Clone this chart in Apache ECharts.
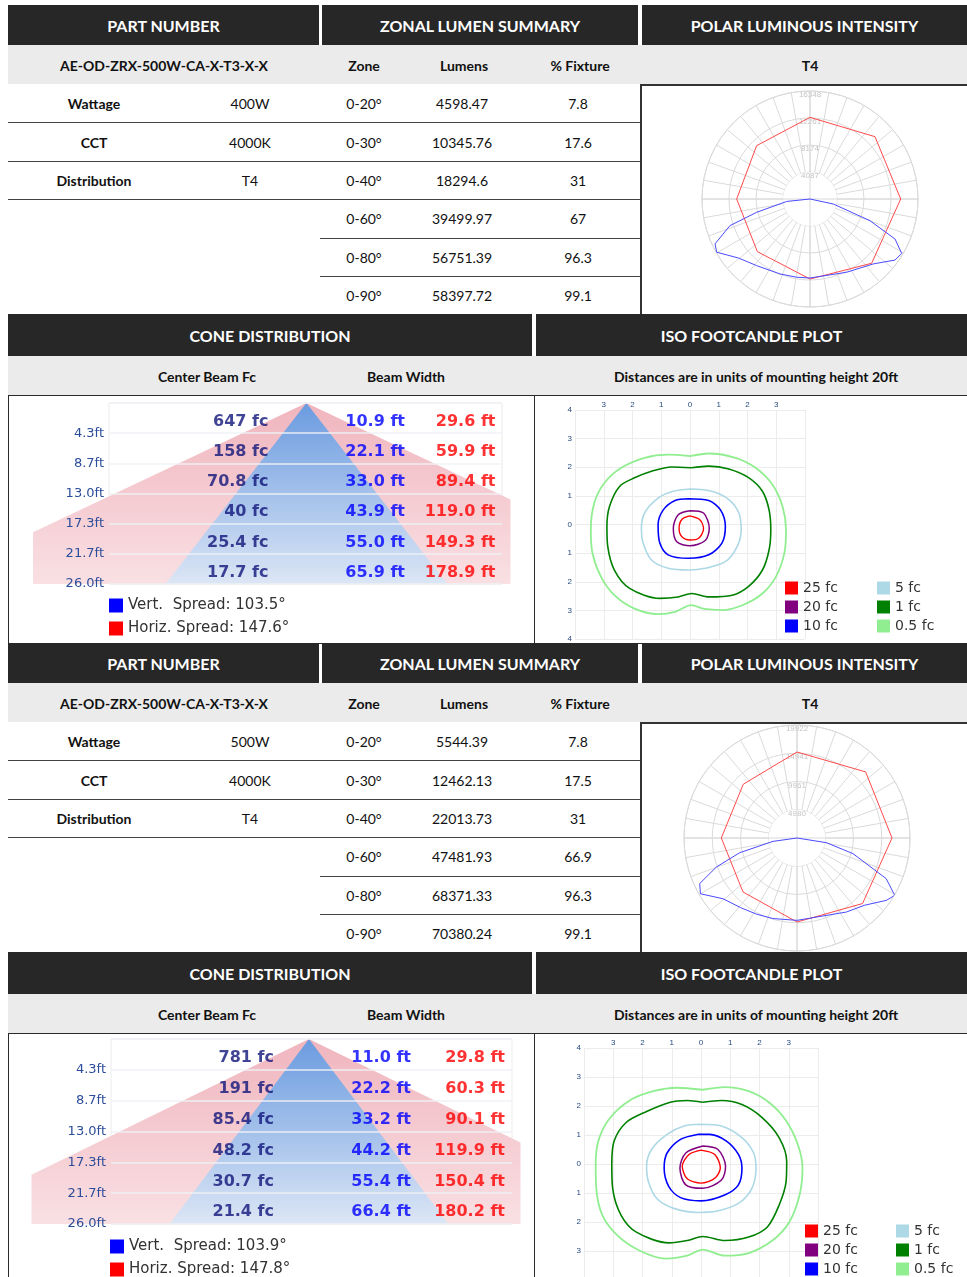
<!DOCTYPE html>
<html>
<head>
<meta charset="utf-8">
<script src="https://cdn.jsdelivr.net/npm/echarts@6/dist/echarts.min.js"></script>
<style>
  body { margin: 0; background: #fff; }
  #page { position: relative; width: 967px; height: 1277px; overflow: hidden; font-family: Lato, 'Open Sans', sans-serif; color: #111; }
  .hd { position: absolute; background: #272727; color: #fff; font-weight: 700; font-size: 16px; display: flex; align-items: center; justify-content: center; }
  .sub { position: absolute; background: #ebebeb; }
  .t { position: absolute; transform: translate(-50%, -50%); white-space: nowrap; font-size: 14px; }
  .b { font-weight: 700; font-size: 14px; }
  .ln { position: absolute; background: #444; }
  .box { position: absolute; border: 1px solid #2a2a2a; box-sizing: border-box; }
  .chart { position: absolute; }
</style>
</head>
<body>
<div id="page"></div>
<script>
// ---- table data ----
const partNumber = 'AE-OD-ZRX-500W-CA-X-T3-X-X'
const specLabels = ['Wattage', 'CCT', 'Distribution']
const specsA = ['400W', '4000K', 'T4']
const specsB = ['500W', '4000K', 'T4']
const zones = ['0-20°', '0-30°', '0-40°', '0-60°', '0-80°', '0-90°']
const lumensA = [4598.47, 10345.76, 18294.6, 39499.97, 56751.39, 58397.72]
const fixtureA = [7.8, 17.6, 31, 67, 96.3, 99.1]
const lumensB = [5544.39, 12462.13, 22013.73, 47481.93, 68371.33, 70380.24]
const fixtureB = [7.8, 17.5, 31, 66.9, 96.3, 99.1]

// ---- polar candela: [angle from nadir (deg, + = right), cd] ----
const polarMaxA = 16348
const vertPlaneA = [[-90, 0], [-84, 3550], [-76, 8320], [-71.6, 12770], [-64.7, 15900], [-60.3, 16260], [-50.5, 14040], [-38.7, 12920], [-21.8, 12220], [-9.7, 12010], [0, 11960], [26.6, 12400], [44.3, 13730], [54.3, 15840], [59.3, 16140], [64.8, 14230], [70.1, 9650], [77.9, 3610], [90, 0]]
const horizPlaneA = [[0, 12110], [43.8, 13480], [90, 13730], [133.8, 13630], [180, 12360], [-135, 11420], [-90, 11100], [-45, 11270], [0, 12110]]
const polarMaxB = 19922
const vertPlaneB = [[-90, 0], [-82, 4270], [-75.6, 10440], [-70.2, 15110], [-64.9, 18940], [-60, 19660], [-50.6, 16870], [-39, 15800], [-27.9, 15200], [-16.6, 14820], [0, 14520], [33.7, 15690], [45.1, 16800], [55.1, 19210], [59.6, 19980], [65.5, 17280], [74.4, 10240], [81, 5230], [90, 0]]
const horizPlaneB = [[0, 14810], [45, 16340], [90, 16750], [133.9, 16800], [180, 15160], [-135, 13400], [-90, 13340], [-45, 13460], [0, 14810]]

// ---- cone distribution ----
const mountHeights = [4.3, 8.7, 13.0, 17.3, 21.7, 26.0]
const centerFcA = [647, 158, 70.8, 40, 25.4, 17.7]
const vertWidthA = [10.9, 22.1, 33.0, 43.9, 55.0, 65.9]
const horizWidthA = [29.6, 59.9, 89.4, 119.0, 149.3, 178.9]
const spreadA = [103.5, 147.6]
const centerFcB = [781, 191, 85.4, 48.2, 30.7, 21.4]
const vertWidthB = [11.0, 22.2, 33.2, 44.2, 55.4, 66.4]
const horizWidthB = [29.8, 60.3, 90.1, 119.9, 150.4, 180.2]
const spreadB = [103.9, 147.8]

// ---- iso footcandle contours, units of mounting height ----
const isoLevels = ['25 fc', '20 fc', '10 fc', '5 fc', '1 fc', '0.5 fc']
const isoA25 = [[0.00, 0.30], [0.35, 0.16], [0.47, -0.16], [0.30, -0.48], [0.00, -0.54], [-0.29, -0.42], [-0.38, -0.13], [-0.27, 0.19]]
const isoA20 = [[0.00, 0.48], [0.47, 0.40], [0.67, -0.13], [0.53, -0.56], [0.00, -0.74], [-0.46, -0.60], [-0.58, -0.13], [-0.41, 0.34]]
const isoA10 = [[-0.05, 0.90], [0.65, 0.84], [1.06, 0.51], [1.23, -0.07], [1.11, -0.65], [0.65, -1.06], [-0.05, -1.18], [-0.76, -1.06], [-1.05, -0.65], [-1.11, -0.01], [-0.93, 0.51], [-0.52, 0.84]]
const isoA5 = [[0.00, 1.24], [0.76, 1.16], [1.35, 0.87], [1.70, 0.40], [1.78, -0.19], [1.64, -0.77], [1.23, -1.30], [0.53, -1.53], [-0.05, -1.59], [-0.76, -1.53], [-1.34, -1.24], [-1.63, -0.65], [-1.69, -0.13], [-1.58, 0.40], [-1.11, 0.92], [-0.58, 1.16]]
const isoA1 = [[0.04, 1.98], [0.65, 2.04], [1.35, 1.94], [2.05, 1.63], [2.52, 1.16], [2.75, 0.51], [2.81, -0.19], [2.75, -0.89], [2.52, -1.59], [2.05, -2.15], [1.47, -2.47], [0.65, -2.53], [0.06, -2.41], [-0.41, -2.53], [-1.05, -2.58], [-2.10, -2.23], [-2.63, -1.59], [-2.86, -0.77], [-2.89, -0.07], [-2.80, 0.63], [-2.45, 1.33], [-1.93, 1.63], [-1.34, 1.86], [-0.64, 2.01]]
const isoA05 = [[0.00, 2.39], [0.65, 2.48], [1.58, 2.33], [2.28, 1.98], [2.87, 1.39], [3.22, 0.63], [3.34, -0.19], [3.28, -1.01], [2.99, -1.82], [2.52, -2.41], [1.82, -2.82], [1.11, -2.99], [0.50, -2.95], [0.04, -2.82], [-0.52, -3.05], [-1.11, -3.13], [-1.93, -2.94], [-2.63, -2.47], [-3.10, -1.82], [-3.39, -1.01], [-3.45, -0.19], [-3.33, 0.75], [-2.98, 1.45], [-2.39, 1.98], [-1.58, 2.33], [-0.76, 2.44]]
const isoB25 = [[0.00, 0.48], [0.47, 0.33], [0.66, -0.14], [0.47, -0.49], [0.00, -0.66], [-0.47, -0.51], [-0.64, -0.08], [-0.41, 0.33]]
const isoB20 = [[0.06, 0.62], [0.58, 0.50], [0.84, -0.08], [0.70, -0.55], [0.06, -0.84], [-0.52, -0.72], [-0.72, -0.14], [-0.52, 0.38]]
const isoB10 = [[-0.12, 1.02], [0.29, 1.02], [0.87, 0.79], [1.28, 0.33], [1.40, -0.14], [1.28, -0.72], [0.81, -1.07], [0.00, -1.27], [-0.70, -1.16], [-1.10, -0.78], [-1.26, -0.14], [-1.16, 0.38], [-0.70, 0.85]]
const isoB5 = [[0.00, 1.37], [0.70, 1.31], [1.40, 0.91], [1.80, 0.38], [1.88, -0.14], [1.74, -0.84], [1.28, -1.36], [0.52, -1.63], [-0.12, -1.67], [-0.93, -1.53], [-1.51, -1.19], [-1.80, -0.60], [-1.86, -0.08], [-1.69, 0.50], [-1.16, 1.02], [-0.58, 1.31]]
const isoB1 = [[0.06, 2.13], [0.70, 2.19], [1.40, 2.05], [2.09, 1.60], [2.67, 0.91], [2.93, 0.09], [2.91, -0.60], [2.67, -1.42], [2.27, -2.17], [1.63, -2.52], [0.81, -2.64], [0.06, -2.50], [-0.47, -2.64], [-1.10, -2.72], [-2.21, -2.35], [-2.73, -1.77], [-3.02, -0.84], [-3.05, -0.02], [-2.97, 0.79], [-2.56, 1.43], [-1.86, 1.81], [-1.05, 2.13], [-0.47, 2.19]]
const isoB05 = [[0.06, 2.56], [0.81, 2.65], [1.63, 2.51], [2.33, 2.12], [2.91, 1.49], [3.31, 0.67], [3.47, -0.14], [3.37, -1.07], [3.02, -2.00], [2.44, -2.64], [1.63, -3.07], [0.81, -3.16], [0.06, -2.95], [-0.47, -3.16], [-1.22, -3.26], [-2.09, -2.99], [-2.85, -2.47], [-3.37, -1.77], [-3.58, -0.84], [-3.60, -0.02], [-3.51, 0.79], [-3.14, 1.55], [-2.44, 2.19], [-1.63, 2.51], [-0.81, 2.63]]

const isoColors = ['#ff0000', '#800080', '#0000ff', '#add8e6', '#008000', '#90ee90']
const isoWidths = [1.4, 1.5, 1.6, 1.6, 1.6, 1.8]

// ---- static table layout ----
const page = document.getElementById('page')

const add = (cls, css, text) => {
  const d = document.createElement('div')
  d.className = cls
  d.style.cssText = css
  if (text != null) d.textContent = text
  page.appendChild(d)
  return d
}
const txt = (x, y, s, bold) => add(bold ? 't b' : 't', `left:${x}px;top:${y}px`, s)

function buildSection(oy, specs, lumens, fixture) {
  add('hd', `left:8px;top:${5 + oy}px;width:311px;height:40px`, 'PART NUMBER')
  add('hd', `left:322px;top:${5 + oy}px;width:316px;height:40px`, 'ZONAL LUMEN SUMMARY')
  add('hd', `left:642px;top:${5 + oy}px;width:325px;height:40px`, 'POLAR LUMINOUS INTENSITY')
  add('sub', `left:8px;top:${45 + oy}px;width:959px;height:39px`)
  txt(164, 65 + oy, partNumber, true)
  txt(364, 65 + oy, 'Zone', true)
  txt(464, 65 + oy, 'Lumens', true)
  txt(580, 65 + oy, '% Fixture', true)
  txt(810, 65 + oy, specs[2], true)

  const rowH = 38.4
  zones.forEach((z, i) => {
    const cy = 84 + oy + rowH * (i + 0.5)
    if (i < specLabels.length) {
      txt(94, cy, specLabels[i], true)
      txt(250, cy, specs[i])
    }
    txt(364, cy, z)
    txt(462, cy, String(lumens[i]))
    txt(578, cy, String(fixture[i]))
    if (i < zones.length - 1) {
      const x0 = i < specLabels.length ? 8 : 320
      add('ln', `left:${x0}px;top:${Math.round(84 + oy + rowH * (i + 1))}px;width:${640 - x0}px;height:1px`)
    }
  })
  // polar box frame
  add('ln', `left:640px;top:${84 + oy}px;width:1.5px;height:230px;background:#333`)
  add('ln', `left:640px;top:${84 + oy}px;width:327px;height:1.5px;background:#333`)

  add('hd', `left:8px;top:${314 + oy}px;width:524px;height:42px`, 'CONE DISTRIBUTION')
  add('hd', `left:536px;top:${314 + oy}px;width:431px;height:42px`, 'ISO FOOTCANDLE PLOT')
  add('sub', `left:8px;top:${356 + oy}px;width:959px;height:39px`)
  txt(207, 376 + oy, 'Center Beam Fc', true)
  txt(406, 376 + oy, 'Beam Width', true)
  txt(756, 376 + oy, 'Distances are in units of mounting height 20ft', true)
  add('box', `left:8px;top:${395 + oy}px;width:527px;height:249px`)
  add('box', `left:534px;top:${395 + oy}px;width:440px;height:249px`)
}

buildSection(0, specsA, lumensA, fixtureA)
buildSection(638, specsB, lumensB, fixtureB)

const chartDiv = (l, t, w, h) => add('chart', `left:${l}px;top:${t}px;width:${w}px;height:${h}px`)

// ---- polar luminous intensity ----
function polarOption(center, radius, maxCd, vert, horiz) {
  const toPolar = pts => pts.map(([t, v]) => [v, t + 180])
  const nearest = (pts, a) => pts.reduce((b, p, i) => Math.abs(p[0] - a) < Math.abs(pts[b][0] - a) ? i : b, 0)
  const vData = toPolar(vert)
  const hData = toPolar(horiz)
  const vi = nearest(vert, 27)
  const hi = nearest(horiz, 134)
  vData[vi] = { value: vData[vi], label: { show: true, formatter: '1', position: 'bottom', distance: 2, color: '#4a4aff', fontSize: 9 } }
  hData[hi] = { value: hData[hi], label: { show: true, formatter: '2', position: 'right', distance: -3, color: '#ff4a4a', fontSize: 9 } }
  const grey = '#dadada'
  return {
    animation: false,
    polar: [{ center, radius }, { center, radius }],
    angleAxis: [
      {
        polarIndex: 0, type: 'value', min: 0, max: 360, interval: 10, startAngle: 90, clockwise: false, z: 0,
        axisLine: { lineStyle: { color: grey } }, axisTick: { show: false }, axisLabel: { show: false },
        splitLine: { lineStyle: { color: grey } }
      },
      {
        polarIndex: 1, type: 'value', min: 0, max: 360, interval: 90, startAngle: 90, clockwise: false, z: 1.5,
        axisLine: { show: false }, axisTick: { show: false }, axisLabel: { show: false },
        splitLine: { lineStyle: { color: grey } }
      }
    ],
    radiusAxis: [
      {
        polarIndex: 0, type: 'value', min: 0, max: maxCd, interval: maxCd / 4, z: 1,
        axisLine: { show: false }, axisTick: { show: false },
        axisLabel: {
          margin: 0, align: 'center', verticalAlign: 'top', fontSize: 8, color: '#c4c4c4',
          formatter: v => v === 0 ? '' : String(Math.floor(v))
        },
        splitLine: { lineStyle: { color: grey } },
        splitArea: { show: true, areaStyle: { color: ['#fff', 'rgba(0,0,0,0)', 'rgba(0,0,0,0)', 'rgba(0,0,0,0)'] } }
      },
      { polarIndex: 1, type: 'value', min: 0, max: maxCd, show: false }
    ],
    series: [
      { type: 'line', coordinateSystem: 'polar', polarIndex: 0, data: hData, symbol: 'none', z: 3,
        lineStyle: { color: '#ff4a4a', width: 1 }, itemStyle: { color: '#ff4a4a' } },
      { type: 'line', coordinateSystem: 'polar', polarIndex: 0, data: vData, symbol: 'none', z: 3,
        lineStyle: { color: '#4a4aff', width: 1 }, itemStyle: { color: '#4a4aff' } }
    ]
  }
}

echarts.init(chartDiv(641, 85, 326, 229)).setOption(polarOption([169, 114], 108, polarMaxA, vertPlaneA, horizPlaneA))
echarts.init(chartDiv(641, 723, 326, 229)).setOption(polarOption([156, 115], 113, polarMaxB, vertPlaneB, horizPlaneB))

// ---- cone distribution ----
function hiddenAxis() {
  return { axisLine: { show: false }, axisTick: { show: false }, axisLabel: { show: false }, splitLine: { show: false } }
}

function coneOption(L, fc, vw, hw, spread) {
  const n = mountHeights.length
  const vHalf = vw[n - 1] / 2
  const hHalf = hw[n - 1] / 2
  const bluePts = [[0, 0], [vHalf, n], [-vHalf, n]]
  const xr = Math.min(L.xMax, hHalf)
  const xl = Math.max(L.xMin, -hHalf)
  const pinkPts = [[0, 0], [xr, xr / hHalf * n], [xr, n], [xl, n], [xl, -xl / hHalf * n]]
  const fill = stops => new echarts.graphic.LinearGradient(0, 0, 0, 1, stops)
  const polygon = (name, color, pts, stops, z) => ({
    type: 'custom', name, xAxisIndex: 0, yAxisIndex: 0, z, silent: true,
    itemStyle: { color },
    data: [[0, 0]],
    renderItem: (params, api) => ({
      type: 'polygon',
      shape: { points: pts.map(p => api.coord(p)) },
      style: { fill: fill(stops) }
    })
  })
  const column = (values, x, fmt, color) => ({
    type: 'scatter', xAxisIndex: 1, yAxisIndex: 1, symbolSize: 0, silent: true, z: 10,
    data: values.map((v, i) => [x, i + 0.62, v]),
    label: {
      show: true, position: 'left', distance: 0, color,
      fontFamily: 'DejaVu Sans', fontWeight: 'bold', fontSize: 16,
      formatter: p => fmt(p.value[2])
    }
  })
  const vName = `Vert.  Spread: ${spread[0]}°`
  const hName = `Horiz. Spread: ${spread[1]}°`
  const hidden = { show: false }
  return {
    animation: false,
    grid: [
      { left: L.g0.left, top: L.top, width: L.g0.width, height: L.height },
      { left: L.g1.left, top: L.top, width: L.g1.width, height: L.height, show: true, borderColor: '#ececec', borderWidth: 1 }
    ],
    xAxis: [
      { gridIndex: 0, type: 'value', min: L.xMin, max: L.xMax, ...hiddenAxis() },
      { gridIndex: 1, type: 'value', min: 0, max: L.g1.width, ...hiddenAxis() }
    ],
    yAxis: [
      { gridIndex: 0, type: 'value', min: 0, max: n, inverse: true, ...hiddenAxis() },
      {
        gridIndex: 1, type: 'value', min: 0, max: n, interval: 1, inverse: true, z: 5,
        axisLine: hidden, axisTick: hidden,
        axisLabel: {
          margin: 5, fontFamily: 'DejaVu Sans', fontSize: 13, color: '#2c4d9a',
          formatter: v => v === 0 ? '' : mountHeights[v - 1].toFixed(1) + 'ft'
        },
        splitLine: { lineStyle: { color: 'rgba(238,240,244,0.95)', width: 1.5 } }
      }
    ],
    legend: {
      data: [vName, hName], orient: 'vertical', left: L.legLeft, top: L.legTop, padding: 0,
      icon: 'rect', itemWidth: 14, itemHeight: 14, itemGap: 8, selectedMode: false,
      textStyle: { fontFamily: 'DejaVu Sans', fontSize: 15, color: '#333' }
    },
    series: [
      polygon(hName, '#ff0000', pinkPts, [{ offset: 0, color: '#f0b5be' }, { offset: 1, color: '#f9e0e3' }], 1),
      polygon(vName, '#0000ff', bluePts, [{ offset: 0, color: '#6a9be0' }, { offset: 1, color: '#dce6f5' }], 2),
      column(fc, L.cols[0], v => v + ' fc', '#10157a'),
      column(vw, L.cols[1], v => v.toFixed(1) + ' ft', '#0000ff'),
      column(hw, L.cols[2], v => v.toFixed(1) + ' ft', '#ff0000')
    ]
  }
}

echarts.init(chartDiv(9, 396, 525, 247)).setOption(coneOption({
  top: 7, height: 181, xMin: -63.9, xMax: 47.7,
  g0: { left: 24, width: 477.5 }, g1: { left: 100, width: 393 },
  cols: [159.5, 296, 386.5], legLeft: 100, legTop: 202
}, centerFcA, vertWidthA, horizWidthA, spreadA))

echarts.init(chartDiv(9, 1034, 525, 265)).setOption(coneOption({
  top: 5, height: 185, xMin: -66.1, xMax: 50.4,
  g0: { left: 22.5, width: 489 }, g1: { left: 102, width: 401 },
  cols: [163, 300, 394], legLeft: 101, legTop: 205
}, centerFcB, vertWidthB, horizWidthB, spreadB))

// ---- iso footcandle ----
function isoOption(L, contours) {
  const axisLabel = { fontSize: 8, color: '#274a80' }
  const legendBase = {
    orient: 'vertical', top: L.legTop, padding: 0, icon: 'rect', itemWidth: 13, itemHeight: 13, itemGap: 5,
    selectedMode: false, textStyle: { fontFamily: 'DejaVu Sans', fontSize: 14, color: '#333' }
  }
  return {
    animation: false,
    grid: { left: L.left, top: L.top, width: L.size, height: L.size },
    xAxis: {
      type: 'value', position: 'top', min: -4, max: 4, interval: 1,
      axisLine: { show: false }, axisTick: { show: false },
      axisLabel: { ...axisLabel, margin: 1, formatter: v => Math.abs(v) === 4 ? '' : String(Math.abs(v)) },
      splitLine: { lineStyle: { color: '#ececec' } }
    },
    yAxis: {
      type: 'value', min: -4, max: 4, interval: 1,
      axisLine: { show: false }, axisTick: { show: false },
      axisLabel: { ...axisLabel, margin: 3, formatter: v => String(Math.abs(v)) },
      splitLine: { lineStyle: { color: '#ececec' } }
    },
    legend: [
      { ...legendBase, left: L.leg1, data: isoLevels.slice(0, 3) },
      { ...legendBase, left: L.leg2, data: isoLevels.slice(3) }
    ],
    series: contours.map((pts, i) => ({
      type: 'line', name: isoLevels[i], data: pts.concat([pts[0]]), smooth: 0.3, symbol: 'none', silent: true,
      lineStyle: { color: isoColors[i], width: isoWidths[i] }, itemStyle: { color: isoColors[i] }
    }))
  }
}

echarts.init(chartDiv(535, 396, 432, 247)).setOption(isoOption(
  { left: 40, top: 14, size: 230, leg1: 250, leg2: 342, legTop: 185 },
  [isoA25, isoA20, isoA10, isoA5, isoA1, isoA05]))

echarts.init(chartDiv(535, 1034, 432, 250)).setOption(isoOption(
  { left: 49, top: 14, size: 234, leg1: 270, leg2: 361, legTop: 190 },
  [isoB25, isoB20, isoB10, isoB5, isoB1, isoB05]))
</script>
</body>
</html>
